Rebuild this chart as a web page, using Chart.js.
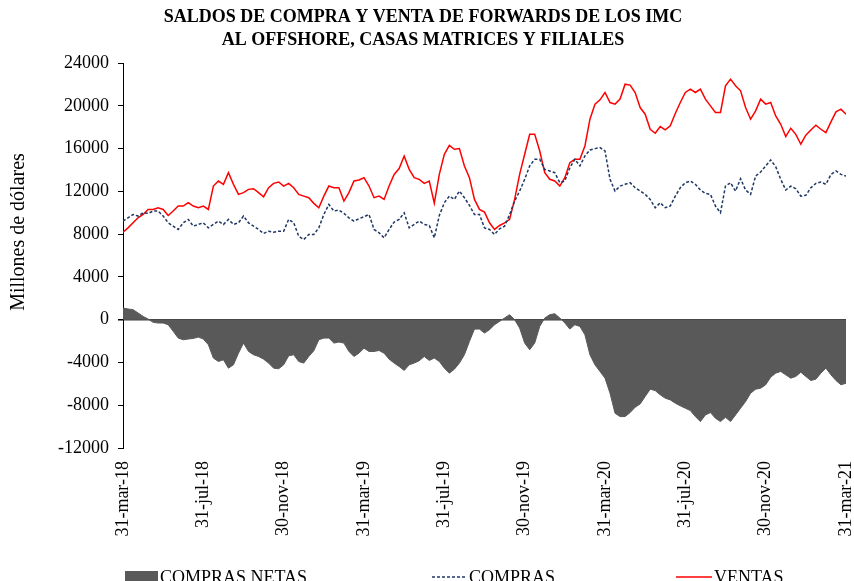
<!DOCTYPE html>
<html lang="es">
<head>
<meta charset="utf-8">
<title>Saldos de forwards IMC</title>
<script src="https://cdn.jsdelivr.net/npm/chart.js@4.4.1/dist/chart.umd.min.js"></script>
<style>
  html, body { margin:0; padding:0; background:#fff; }
  #wrap { width:854px; height:581px; position:relative; }
</style>
</head>
<body>
<div id="wrap"><canvas id="grafico"></canvas></div>
<script>
/* ================= DATOS (millones de USD, una lectura por semana) ================= */
const PASO_MESES = 0.25; // distancia entre lecturas, en meses desde 31-mar-18

const etiquetasX = ["31-mar-18","31-jul-18","30-nov-18","31-mar-19","31-jul-19",
                    "30-nov-19","31-mar-20","31-jul-20","30-nov-20","31-mar-21"];

const ventas = [
  8190, 8590, 9060, 9530, 9840, 10310, 10310, 10470, 10310, 9750,
  10160, 10630, 10630, 10940, 10630, 10470, 10630, 10310, 12500, 12970,
  12660, 13750, 12660, 11720, 11880, 12190, 12250, 11880, 11500, 12340,
  12750, 12880, 12500, 12750, 12340, 11720, 11560, 11410, 10880, 10470,
  11560, 12500, 12340, 12340, 11090, 11880, 12970, 13060, 13280, 12500,
  11410, 11560, 11250, 12500, 13590, 14130, 15310, 14060, 13280, 13130,
  12750, 12970, 10900, 13590, 15470, 16310, 15940, 16000, 14380, 13280,
  11250, 10310, 10060, 9060, 8440, 8810, 9060, 9380, 11250, 13590,
  15470, 17340, 17340, 15780, 13750, 13130, 12970, 12500, 13280, 14690,
  15000, 15000, 16250, 18750, 20160, 20560, 21250, 20310, 20160, 20630,
  22030, 21940, 21250, 19840, 19220, 17810, 17440, 18060, 17750, 18130,
  19280, 20310, 21250, 21560, 21250, 21560, 20630, 20000, 19380, 19380,
  21880, 22500, 21880, 21410, 19840, 18750, 19530, 20630, 20160, 20310,
  19060, 18280, 17130, 17910, 17340, 16410, 17250, 17750, 18190, 17810,
  17500, 18500, 19440, 19690, 19220
];

const compras = [
  9220, 9530, 9840, 9690, 10000, 9940, 10160, 10160, 9690, 9060,
  8750, 8440, 9060, 9380, 8750, 8910, 9060, 8590, 8910, 9220,
  8910, 9380, 8910, 9060, 9690, 9060, 8750, 8440, 8060, 8280,
  8190, 8280, 8280, 9380, 9060, 7810, 7500, 7970, 7970, 8590,
  9840, 10780, 10160, 10250, 9940, 9530, 9220, 9440, 9630, 9840,
  8440, 8130, 7660, 8440, 9130, 9380, 10000, 8590, 8910, 9220,
  8910, 8810, 7660, 9750, 10940, 11560, 11250, 12030, 11410, 10690,
  9840, 9840, 8590, 8440, 7970, 8500, 8750, 9840, 11090, 12030,
  13130, 14380, 15000, 15000, 14060, 13910, 13750, 12810, 12970, 14220,
  15000, 14380, 15310, 15880, 16000, 16090, 15780, 13130, 12030, 12500,
  12660, 12810, 12340, 12030, 11720, 11250, 10470, 10940, 10470, 10630,
  11560, 12340, 12810, 12970, 12660, 12130, 11810, 11720, 10630, 10000,
  12500, 12810, 12030, 13190, 12130, 11720, 13440, 13810, 14380, 14940,
  14310, 13130, 12130, 12500, 12250, 11560, 11630, 12340, 12750, 12880,
  12660, 13590, 13910, 13590, 13440
];

const comprasNetas = [
  1090, 1000, 940, 630, 310, 60, -250, -310, -310, -470,
  -1090, -1720, -1880, -1810, -1750, -1630, -1810, -2340, -3590, -3910,
  -3750, -4530, -4220, -3130, -2190, -2970, -3280, -3440, -3690, -4060,
  -4530, -4590, -4220, -3380, -3280, -3910, -4060, -3440, -2910, -1880,
  -1720, -1720, -2190, -2090, -2190, -2970, -3440, -3130, -2660, -2970,
  -2970, -2880, -3130, -3690, -4060, -4380, -4750, -4220, -4060, -3840,
  -3440, -3810, -3590, -3910, -4530, -5000, -4630, -4060, -3280, -2030,
  -880, -880, -1250, -940, -470, -160, 160, 470, 0, -780,
  -2190, -2810, -2190, -630, 160, 470, 560, 160, -310, -880,
  -470, -630, -1410, -3280, -4220, -4840, -5470, -6880, -8750, -9060,
  -9060, -8690, -8190, -7880, -7190, -6500, -6630, -7030, -7340, -7500,
  -7810, -8060, -8280, -8500, -9060, -9530, -8910, -8690, -9220, -9530,
  -9130, -9530, -8910, -8280, -7660, -6880, -6500, -6410, -6090, -5380,
  -5000, -4840, -5160, -5470, -5310, -4910, -5310, -5690, -5560, -5000,
  -4530, -5160, -5690, -6090, -5940
];

/* ================= ESTILO ================= */
const SERIF = "'Liberation Serif', 'Times New Roman', serif";
const GRIS = "#595959";
const AZUL = "#1F3864";
const ROJO = "#FF0000";

const puntos = arr => arr.map((v, i) => ({x: i * PASO_MESES, y: v}));

/* leyenda y título del eje Y dibujados a mano (posiciones como en el original) */
const extras = {
  id: "extras",
  afterDraw(chart){
    const ctx = chart.ctx;
    ctx.save();
    ctx.fillStyle = "#000";

    // título eje Y
    ctx.save();
    ctx.font = "20px " + SERIF;
    ctx.translate(19, 232);
    ctx.rotate(-Math.PI/2);
    ctx.textAlign = "center";
    ctx.textBaseline = "middle";
    ctx.fillText("Millones de dólares", 0, 0);
    ctx.restore();

    // leyenda (cortada por el borde inferior, como en el original)
    ctx.font = "18px " + SERIF;
    const yTxt = 583, yLin = 577;
    ctx.textAlign = "left";
    ctx.textBaseline = "alphabetic";

    ctx.fillStyle = GRIS;
    ctx.fillRect(125, 571, 33, 14);
    ctx.fillStyle = "#000";
    ctx.fillText("COMPRAS NETAS", 160, yTxt);

    ctx.strokeStyle = AZUL;
    ctx.lineWidth = 1.5;
    ctx.setLineDash([3, 2]);
    ctx.beginPath(); ctx.moveTo(432, yLin); ctx.lineTo(466, yLin); ctx.stroke();
    ctx.fillText("COMPRAS", 469, yTxt);

    ctx.strokeStyle = ROJO;
    ctx.setLineDash([]);
    ctx.beginPath(); ctx.moveTo(676, yLin); ctx.lineTo(712, yLin); ctx.stroke();
    ctx.fillText("VENTAS", 714, yTxt);
    ctx.restore();
  }
};

/* ================= GRÁFICO ================= */
new Chart(document.getElementById("grafico"), {
  type: "line",
  data: {
    datasets: [
      {label:"COMPRAS", data:puntos(compras), borderColor:AZUL, borderWidth:1.5,
       borderDash:[3,2], pointRadius:0, fill:false, order:0},
      {label:"VENTAS", data:puntos(ventas), borderColor:ROJO, borderWidth:1.5,
       pointRadius:0, fill:false, order:1},
      {label:"COMPRAS NETAS", data:puntos(comprasNetas), borderColor:GRIS, borderWidth:1,
       backgroundColor:GRIS, pointRadius:0, fill:"origin", order:2}
    ]
  },
  options: {
    responsive:true,
    maintainAspectRatio:false,
    animation:false,
    devicePixelRatio:1,
    layout:{padding:{left:0, right:8, top:0, bottom:0}},
    plugins:{
      legend:{display:false},
      tooltip:{enabled:false},
      title:{
        display:true,
        text:["SALDOS DE COMPRA Y VENTA DE FORWARDS DE LOS IMC",
              "AL OFFSHORE, CASAS MATRICES Y FILIALES"],
        color:"#000",
        font:{family:SERIF, size:18, weight:"bold", lineHeight:1.28},
        padding:{top:6, bottom:11}
      }
    },
    scales:{
      x:{
        type:"linear", min:0, max:36,
        grid:{display:false, drawTicks:false},
        border:{display:false},
        ticks:{
          stepSize:4, autoSkip:false, minRotation:90, maxRotation:90, padding:13,
          color:"#000", font:{family:SERIF, size:18},
          callback:v => etiquetasX[Math.round(v/4)]
        },
        afterFit:s => { s.height = 133; s.paddingLeft = 0; s.paddingRight = 0; }
      },
      y:{
        min:-12000, max:24000, z:1,
        ticks:{stepSize:4000, padding:9, color:"#000", font:{family:SERIF, size:18},
               callback:v => v},
        grid:{
          color:c => (c.tick && c.tick.value === 0) ? "#404040" : "rgba(0,0,0,0)",
          lineWidth:c => (c.tick && c.tick.value === 0) ? 1.5 : 1,
          tickColor:"#000", tickLength:5
        },
        border:{display:true, color:"#000", width:1},
        afterFit:s => { s.width = 123; }
      }
    }
  },
  plugins:[extras]
});
</script>
</body>
</html>
